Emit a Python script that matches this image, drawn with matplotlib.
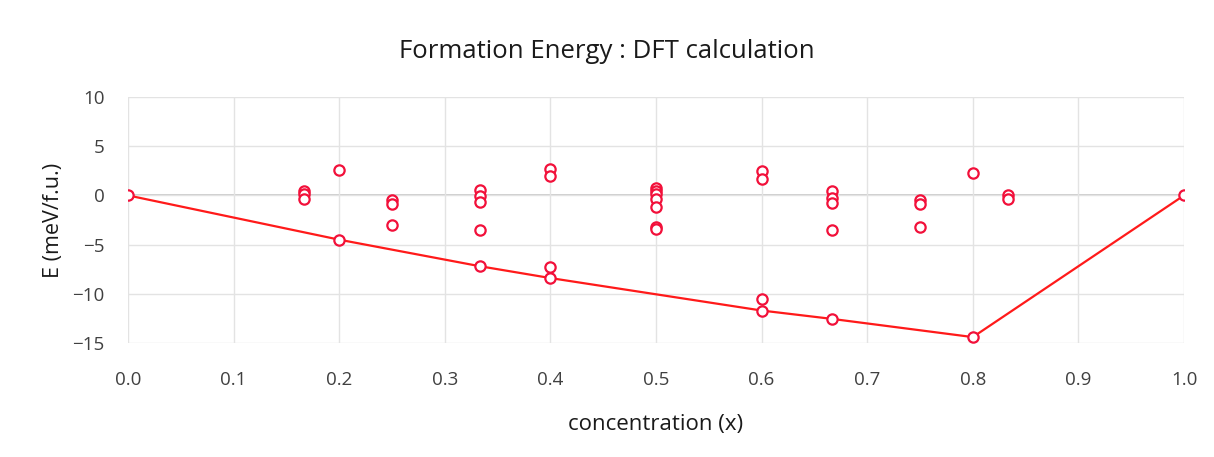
import numpy as np
import matplotlib.pyplot as plt

# concentration values of the computed structures
x_points = [0.0,
            1/6, 1/6, 1/6,
            0.2, 0.2,
            0.25, 0.25, 0.25,
            1/3, 1/3, 1/3, 1/3, 1/3,
            0.4, 0.4, 0.4, 0.4,
            0.5, 0.5, 0.5, 0.5, 0.5, 0.5, 0.5,
            0.6, 0.6, 0.6, 0.6,
            2/3, 2/3, 2/3, 2/3, 2/3,
            0.75, 0.75, 0.75,
            0.8, 0.8,
            5/6, 5/6,
            1.0]
# formation energies (meV/f.u.)
e_points = [0.0,
            0.4, 0.1, -0.4,
            2.6, -4.5,
            -0.5, -0.9, -3.0,
            0.55, -0.1, -0.7, -3.5, -7.2,
            2.65, 1.95, -7.3, -8.4,
            0.75, 0.45, 0.1, -0.4, -1.15, -3.2, -3.4,
            2.5, 1.7, -10.5, -11.7,
            0.45, -0.3, -0.8, -3.5, -12.55,
            -0.5, -0.9, -3.2,
            2.25, -14.4,
            0.05, -0.35,
            0.0]

# convex hull vertices
x_hull = [0.0, 0.2, 1/3, 0.4, 0.6, 2/3, 0.8, 1.0]
e_hull = [0.0, -4.5, -7.2, -8.4, -11.7, -12.55, -14.4, 0.0]

x_ticks = np.arange(0, 1.01, 0.1)
y_ticks = [-15, -10, -5, 0, 5, 10]

plt.rcParams['font.family'] = ['Open Sans', 'DejaVu Sans']

fig = plt.figure(figsize=(12.14, 4.57), dpi=100)
ax = fig.add_axes([128 / 1214, 1 - 343 / 457, (1184 - 128) / 1214, (343 - 97) / 457])

ax.plot(x_hull, e_hull, color='#ff1a1a', lw=1.6, zorder=3)
ax.scatter(x_points, e_points, s=55, facecolors='white', edgecolors='#f2103a',
           linewidths=1.6, zorder=4)

ax.set_xlim(0, 1.0)
ax.set_ylim(-15, 10)
ax.set_xticks(x_ticks)
ax.set_xticklabels([f'{t:.1f}' for t in x_ticks])
ax.set_yticks(y_ticks)

ax.grid(True, color='#e3e3e3', lw=1.0, zorder=0)
ax.axhline(0, color='#c4c4c4', lw=1.2, zorder=1)
for s in ax.spines.values():
    s.set_visible(False)
ax.tick_params(length=0, labelsize=13.5, colors='#404040')
ax.tick_params(axis='x', pad=20)
ax.tick_params(axis='y', pad=17)

# title is centred on the whole figure, not the plot area
fig.suptitle('Formation Energy : DFT calculation', fontsize=18.5, y=0.915,
             color='#1a1a1a')
ax.set_xlabel('concentration (x)', fontsize=16, labelpad=18, color='#1a1a1a')
ax.set_ylabel('E (meV/f.u.)', fontsize=15.5, labelpad=6, color='#1a1a1a')

fig.savefig('out.png', dpi=100)
